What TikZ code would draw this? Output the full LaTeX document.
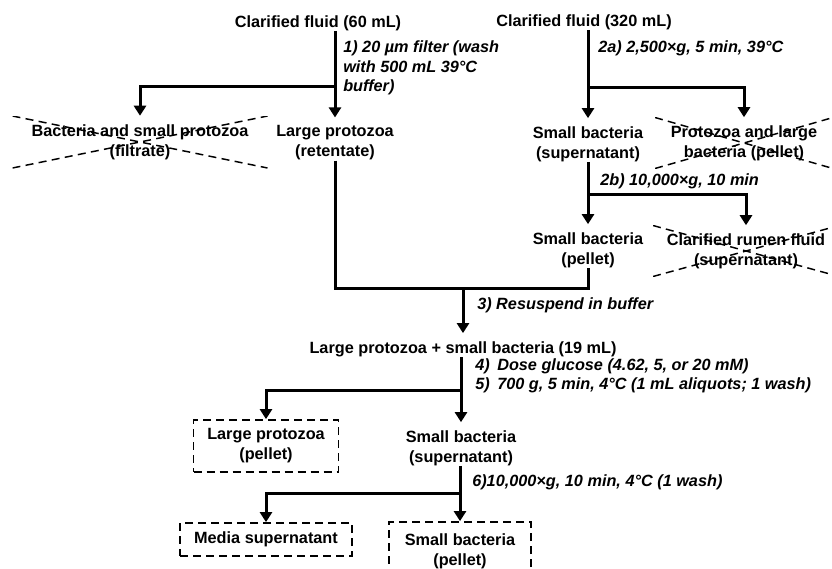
\documentclass[tikz,border=0pt]{standalone}
\usepackage{fontspec}
\setmainfont{Liberation Sans}
\usetikzlibrary{arrows.meta}
\begin{document}
\begin{tikzpicture}[x=0.75pt,y=-0.75pt,
  txt/.style={font=\fontsize{12.2}{15}\selectfont\bfseries, align=center, inner sep=0pt},
  lbl/.style={font=\fontsize{12.2}{14.5}\selectfont\bfseries\itshape, align=left, anchor=west, inner sep=0pt},
  ln/.style={line width=2.25pt, line join=miter},
  arr/.style={ln, -{Triangle[width=9pt,length=7.5pt]}},
  xdash/.style={line width=1.1pt, dash pattern=on 6pt off 4pt},
  crossed/.style={txt, path picture={\draw[xdash] (path picture bounding box.north west) -- (path picture bounding box.south east) (path picture bounding box.south west) -- (path picture bounding box.north east);}},
  dbox/.style={txt, draw, line width=1.3pt, dash pattern=on 6pt off 3.75pt}]
\fill[white] (0,0) rectangle (832,568);
\useasboundingbox (0,0) rectangle (832,568);

% nodes
\node[txt] (cf60) at (318,23) {Clarified fluid (60 mL)};
\node[txt] (cf320) at (584,22) {Clarified fluid (320 mL)};
\node[crossed, minimum width=191.25pt, minimum height=39pt] (filt) at (140,142) {Bacteria and small protozoa\\(filtrate)};
\node[txt] (ret) at (335,143) {Large protozoa\\(retentate)};
\node[txt] (sup1) at (588,144) {Small bacteria\\(supernatant)};
\node[crossed, minimum width=133.5pt, minimum height=38.25pt] (pel1) at (744,143) {Protozoa and large\\bacteria (pellet)};
\node[txt] (pel2) at (588,250) {Small bacteria\\(pellet)};
\node[crossed, minimum width=139.5pt, minimum height=38.25pt] (sup2) at (746,251) {Clarified rumen fluid\\(supernatant)};
\node[txt] (mix) at (463,349) {Large protozoa + small bacteria (19 mL)};
\node[dbox, minimum width=108.75pt, minimum height=39pt] (lpp) at (266,446) {Large protozoa\\(pellet)};
\node[txt] (sbs) at (461,448) {Small bacteria\\(supernatant)};
\node[dbox, minimum width=129pt, minimum height=24.75pt] (med) at (266,539.5) {Media supernatant};
\node[dbox, minimum width=106.5pt, minimum height=44.25pt] (sbp) at (460,551.5) {Small bacteria\\(pellet)};

% labels
\node[lbl] (l1) at (343,68) {1) 20 µm filter (wash\\with 500 mL 39°C\\buffer)};
\node[lbl] (l2a) at (598,48) {2a) 2,500×g, 5 min, 39°C};
\node[lbl] (l2b) at (600,181) {2b) 10,000×g, 10 min};
\node[lbl] (l3) at (477,305) {3) Resuspend in buffer};
\node[lbl] (l45) at (475,376) {\makebox[16.5pt][l]{4)}Dose glucose (4.62, 5, or 20 mM)\\\makebox[16.5pt][l]{5)}700 g, 5 min, 4°C (1 mL aliquots; 1 wash)};
\node[lbl] (l6) at (472,482) {6)10,000×g, 10 min, 4°C (1 wash)};

% junctions
\coordinate (j1) at (335,86);
\coordinate (j2) at (588,87);
\coordinate (j3) at (588,194);
\coordinate (j4) at (463,288);
\coordinate (j5) at (461,390);
\coordinate (j6) at (460,493);

% connectors
\draw[arr] (cf60.south -| ret.north) -- ([yshift=6pt]ret.north);
\draw[arr] (j1) -| (filt.north);
\draw[arr] (cf320.south -| sup1.north) -- ([yshift=6pt]sup1.north);
\draw[arr] (j2) -| (pel1.north);
\draw[arr] (sup1.south) -- ([yshift=6pt]pel2.north);
\draw[arr] (j3) -| (sup2.north);
\draw[ln] (ret.south) |- (pel2.south |- j4) -- (pel2.south);
\draw[arr] (j4) -- ([yshift=6pt]mix.north);
\draw[arr] (mix.south -| j5) -- ([yshift=6pt]sbs.north);
\draw[arr] (j5) -| (lpp.north);
\draw[arr] (sbs.south -| j6) -- (sbp.north);
\draw[arr] (j6) -| (med.north);
\end{tikzpicture}
\end{document}
